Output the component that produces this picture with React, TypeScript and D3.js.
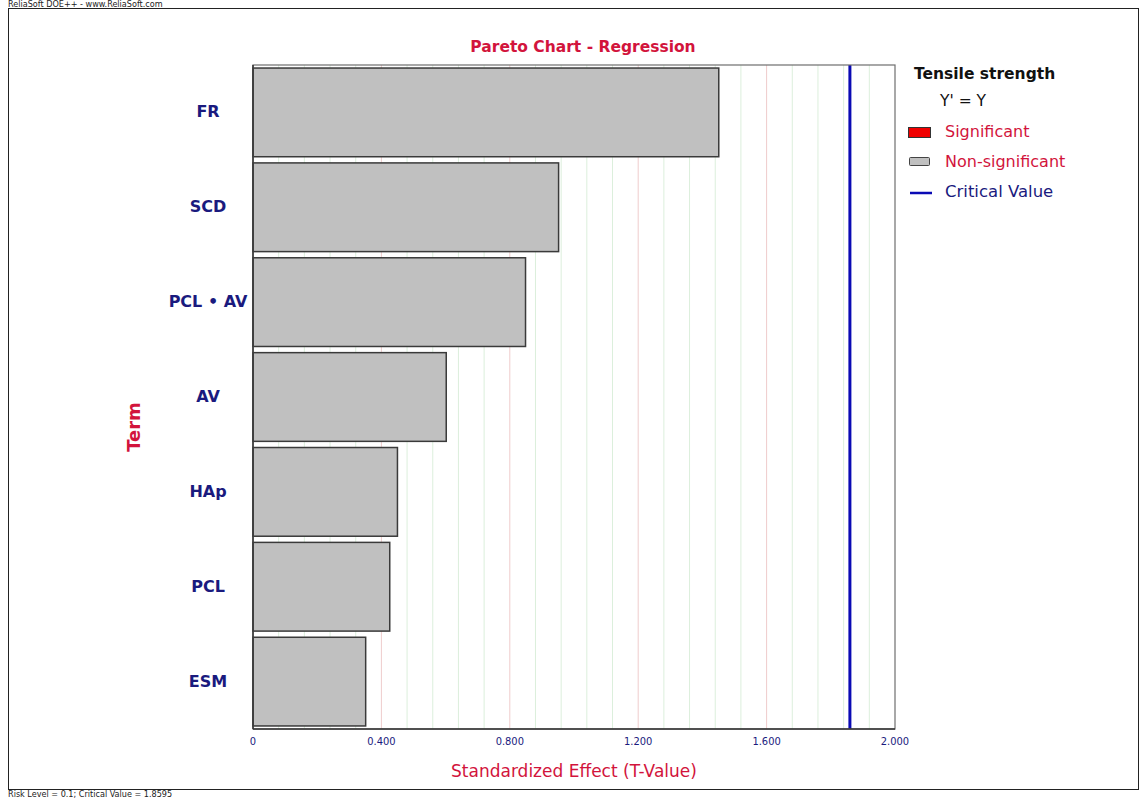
import React from "react";
import * as d3 from "d3";

// Pareto of standardized effects (T-values)
const terms = ["FR", "SCD", "PCL • AV", "AV", "HAp", "PCL", "ESM"];
const tValues = [1.451, 0.952, 0.849, 0.602, 0.45, 0.426, 0.351];
const criticalValue = 1.8595;
const xTickValues = [0, 0.4, 0.8, 1.2, 1.6, 2.0];
const xTickLabels = ["0", "0.400", "0.800", "1.200", "1.600", "2.000"];

const W = 1140;
const H = 799;
const plot = { left: 253, right: 895, top: 65, bottom: 729 };

const FONT = "'DejaVu Sans', Verdana, sans-serif";
const SMALL_FONT = "'DejaVu Sans Condensed', 'DejaVu Sans', Tahoma, sans-serif";
const CRIMSON = "#d2143c";
const NAVY = "#1a1a7e";

export default function App() {
  const x = d3.scaleLinear().domain([0, 2]).range([plot.left, plot.right]);
  const y = d3
    .scaleBand<string>()
    .domain(terms)
    .range([plot.top, plot.bottom])
    .paddingInner(0.065)
    .paddingOuter(0.032);

  const minor = d3.range(0, 2.0001, 0.08).filter((v) => Math.abs(v / 0.4 - Math.round(v / 0.4)) > 1e-6);
  const major = [0.4, 0.8, 1.2, 1.6];

  return (
    <svg
      width={W}
      height={H}
      style={{ position: "absolute", left: 0, top: 0, background: "#fff" }}
      fontFamily={FONT}
    >
      <rect x={0} y={0} width={W} height={H} fill="#fff" />
      {/* outer frame */}
      <text x={8} y={7} fontSize={9} fill="#222" fontFamily={SMALL_FONT}>
        ReliaSoft DOE++ - www.ReliaSoft.com
      </text>
      <rect x={8.5} y={8.5} width={1130} height={781} fill="none" stroke="#222" strokeWidth={1} />
      <text x={8} y={797} fontSize={9} fill="#222" fontFamily={SMALL_FONT}>
        Risk Level = 0.1; Critical Value = 1.8595
      </text>

      {/* title */}
      <text x={583} y={52} textAnchor="middle" fontSize={15.5} fontWeight="bold" fill={CRIMSON}>
        Pareto Chart - Regression
      </text>

      {/* grid */}
      {minor.map((v) => (
        <line key={"m" + v} x1={x(v)} x2={x(v)} y1={plot.top} y2={plot.bottom} stroke="#dcefdc" strokeWidth={1} />
      ))}
      {major.map((v) => (
        <line key={"M" + v} x1={x(v)} x2={x(v)} y1={plot.top} y2={plot.bottom} stroke="#efcccc" strokeWidth={1} />
      ))}

      {/* bars */}
      {terms.map((t, i) => (
        <rect
          key={t}
          x={x(0)}
          y={y(t)}
          width={x(tValues[i]) - x(0)}
          height={y.bandwidth()}
          fill="#c0c0c0"
          stroke="#3a3a3a"
          strokeWidth={1.5}
        />
      ))}

      {/* critical value */}
      <line x1={x(criticalValue)} x2={x(criticalValue)} y1={plot.top} y2={plot.bottom} stroke="#0a0ab4" strokeWidth={3} />

      {/* plot frame */}
      <rect
        x={plot.left}
        y={plot.top}
        width={plot.right - plot.left}
        height={plot.bottom - plot.top}
        fill="none"
        stroke="#6e6e6e"
        strokeWidth={1.2}
      />
      <line x1={plot.left} x2={plot.left} y1={plot.top} y2={plot.bottom} stroke="#333" strokeWidth={1.5} />
      <line x1={plot.left} x2={plot.right} y1={plot.bottom} y2={plot.bottom} stroke="#333" strokeWidth={1.5} />

      {/* x ticks */}
      {xTickValues.map((v, i) => (
        <text key={v} x={x(v)} y={745} textAnchor="middle" fontSize={11} fill={NAVY} fontFamily={SMALL_FONT}>
          {xTickLabels[i]}
        </text>
      ))}
      <text x={574} y={777} textAnchor="middle" fontSize={17} fill={CRIMSON}>
        Standardized Effect (T-Value)
      </text>

      {/* y labels */}
      {terms.map((t) => (
        <text
          key={t}
          x={208}
          y={(y(t) as number) + y.bandwidth() / 2 + 5}
          textAnchor="middle"
          fontSize={16}
          fontWeight="bold"
          fill={NAVY}
        >
          {t}
        </text>
      ))}
      <text
        transform={`translate(140,427) rotate(-90)`}
        textAnchor="middle"
        fontSize={18}
        fontWeight="bold"
        fill={CRIMSON}
      >
        Term
      </text>

      {/* legend */}
      <text x={914} y={79} fontSize={15.5} fontWeight="bold" fill="#111">
        Tensile strength
      </text>
      <text x={940} y={106} fontSize={15.5} fill="#111">
        Y' = Y
      </text>
      <rect x={908.5} y={127.5} width={22} height={10} fill="#f00000" stroke="#333" strokeWidth={1} />
      <text x={945} y={137} fontSize={16} fill={CRIMSON}>
        Significant
      </text>
      <rect x={909.5} y={157.5} width={20} height={8} rx={1} fill="#c0c0c0" stroke="#444" strokeWidth={1} />
      <text x={945} y={167} fontSize={16} fill={CRIMSON}>
        Non-significant
      </text>
      <line x1={910} x2={932} y1={193} y2={193} stroke="#0a0ab4" strokeWidth={2.5} />
      <text x={945} y={197} fontSize={16.5} fill={NAVY}>
        Critical Value
      </text>
    </svg>
  );
}
